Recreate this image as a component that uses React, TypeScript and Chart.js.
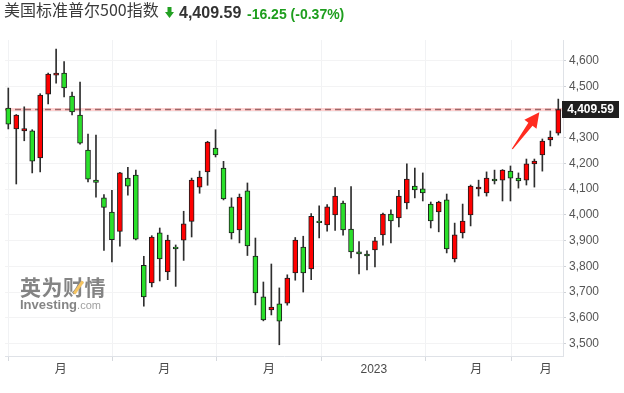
import { useEffect, useRef } from "react";
import { Chart, registerables } from "chart.js";

Chart.register(...registerables);

// ---------- data ----------
const titleText = "美国标准普尔500指数";
const lastPrice = 4409.59;
const changeText = "-16.25";
const changePctText = "(-0.37%)";
const firstWeek = "2022-02-14"; // Monday of the first weekly candle

const opens = [
  4415, 4334, 4326, 4327, 4221, 4469, 4543, 4551, 4462, 4388,
  4252, 4135, 4066, 4011, 3936, 4143, 4155, 3804, 3735, 3930,
  3778, 3875, 3902, 3975, 4108, 4167, 4260, 4182, 4031, 3941,
  4093, 3840, 3681, 3631, 3654, 3657, 3774, 3875, 3790, 3976,
  3961, 4000, 4046, 3945, 3856, 3848, 3864, 3922, 4003, 3988,
  4046, 4112, 4101, 4042, 4011, 4058, 3829, 3930, 4000, 4101,
  4085, 4139, 4135, 4170, 4143, 4135, 4198, 4233, 4291, 4318,
];
const highs = [
  4493, 4390, 4420, 4331, 4471, 4551, 4644, 4596, 4477, 4516,
  4314, 4310, 4079, 4095, 4165, 4185, 4174, 3839, 3919, 3949,
  3921, 3883, 4014, 4143, 4170, 4286, 4331, 4208, 4066, 4081,
  4124, 3910, 3739, 3809, 3716, 3767, 3912, 3917, 4005, 4035,
  4040, 4106, 4054, 4110, 3896, 3860, 3913, 4007, 4020, 4095,
  4198, 4182, 4163, 4050, 4053, 4081, 3968, 4042, 4116, 4135,
  4167, 4174, 4176, 4190, 4163, 4217, 4217, 4295, 4326, 4450,
];
const lows = [
  4334, 4120, 4288, 4163, 4167, 4431, 4512, 4458, 4388, 4275,
  4128, 4069, 3862, 3817, 3878, 4077, 3903, 3645, 3720, 3743,
  3748, 3722, 3823, 3914, 4084, 4115, 4225, 4058, 3906, 3891,
  3842, 3650, 3588, 3611, 3495, 3649, 3746, 3700, 3748, 3910,
  3937, 3940, 3921, 3833, 3770, 3786, 3798, 3882, 3891, 3953,
  4023, 4066, 4054, 3949, 3934, 3852, 3817, 3910, 3957, 4073,
  4073, 4120, 4054, 4054, 4104, 4116, 4108, 4170, 4268, 4310,
];
const closes = [
  4353, 4388, 4335, 4209, 4466, 4547, 4551, 4493, 4400, 4279,
  4139, 4126, 4029, 3904, 4163, 4112, 3906, 3681, 3914, 3829,
  3902, 3868, 3965, 4135, 4147, 4283, 4233, 4062, 3930, 4069,
  3879, 3697, 3592, 3642, 3587, 3754, 3902, 3774, 3994, 3970,
  4031, 4073, 3941, 3856, 3848, 3840, 3899, 4003, 3976, 4073,
  4139, 4097, 4085, 3976, 4050, 3868, 3922, 3976, 4112, 4108,
  4143, 4132, 4174, 4143, 4132, 4198, 4209, 4287, 4302, 4409.59,
];

const yTicks = [3500, 3600, 3700, 3800, 3900, 4000, 4100, 4200, 4300, 4400, 4500, 4600];
const xTickDates = ["2022-04-01", "2022-07-01", "2022-10-01", "2023-01-01", "2023-04-01", "2023-06-01"];
const xTickLabels = ["月", "月", "月", "2023", "月", "月"];

// annotation arrow (data coordinates: week index, price)
const arrowFrom = { x: 63.23, y: 4256 };
const arrowTo = { x: 66.62, y: 4399 };

// ---------- styles ----------
const UP = "#ff0000";
const DOWN = "#2ae02a";
const WEEK_MS = 7 * 86400000;
const weekPos = (d: string) => (Date.parse(d) - Date.parse(firstWeek)) / WEEK_MS;
const fmt = (v: number) => v.toLocaleString("en-US", { maximumFractionDigits: 2 });

const overlayPlugin = {
  id: "overlay",
  beforeDatasetsDraw(chart: any) {
    const { ctx, chartArea, scales } = chart;
    const y = Math.round(scales.y.getPixelForValue(lastPrice)) + 0.5;
    ctx.save();
    ctx.strokeStyle = "rgba(255,170,170,0.55)";
    ctx.lineWidth = 3;
    ctx.beginPath();
    ctx.moveTo(chartArea.left, y);
    ctx.lineTo(chartArea.right, y);
    ctx.stroke();
    ctx.strokeStyle = "#9a6868";
    ctx.lineWidth = 1.5;
    ctx.setLineDash([6, 4]);
    ctx.beginPath();
    ctx.moveTo(chartArea.left, y);
    ctx.lineTo(chartArea.right, y);
    ctx.stroke();
    ctx.restore();
  },
  afterDraw(chart: any) {
    const { ctx, chartArea, scales } = chart;
    // arrow
    const x0 = scales.x.getPixelForValue(arrowFrom.x);
    const y0 = scales.y.getPixelForValue(arrowFrom.y);
    const x1 = scales.x.getPixelForValue(arrowTo.x);
    const y1 = scales.y.getPixelForValue(arrowTo.y);
    const dx = x1 - x0, dy = y1 - y0;
    const len = Math.hypot(dx, dy);
    const ux = dx / len, uy = dy / len;
    const nx = -uy, ny = ux;
    const headLen = 15, headW = 7.5, shaftW = 2.6, tailW = 0.6;
    const bx = x1 - ux * headLen, by = y1 - uy * headLen;
    ctx.save();
    ctx.fillStyle = "#ff2b1f";
    ctx.beginPath();
    ctx.moveTo(x0 + nx * tailW, y0 + ny * tailW);
    ctx.lineTo(bx + nx * shaftW, by + ny * shaftW);
    ctx.lineTo(bx + nx * headW, by + ny * headW);
    ctx.lineTo(x1, y1);
    ctx.lineTo(bx - nx * headW, by - ny * headW);
    ctx.lineTo(bx - nx * shaftW, by - ny * shaftW);
    ctx.lineTo(x0 - nx * tailW, y0 - ny * tailW);
    ctx.closePath();
    ctx.fill();
    // last price box
    const py = scales.y.getPixelForValue(lastPrice);
    const bxL = chartArea.right - 1;
    const bw = 57, bh = 17;
    ctx.fillStyle = "#1f1f1f";
    ctx.fillRect(bxL, Math.round(py - bh / 2), bw, bh);
    ctx.fillStyle = "#ffffff";
    ctx.font = "bold 12px Arial, 'Liberation Sans', sans-serif";
    ctx.textAlign = "center";
    ctx.textBaseline = "middle";
    ctx.fillText(fmt(lastPrice), bxL + bw / 2, Math.round(py - bh / 2) + bh / 2 + 0.5);
    ctx.restore();
  },
};

export default function App() {
  const ref = useRef<HTMLCanvasElement | null>(null);

  useEffect(() => {
    if (!ref.current) return;
    const bodyData = opens.map((o, i) => ({ x: i, y: [o, closes[i]] }));
    const wickData = highs.map((h, i) => ({ x: i, y: [lows[i], h] }));
    const colors = opens.map((o, i) => (closes[i] >= o ? UP : DOWN));
    const xTickPos = xTickDates.map(weekPos);

    const chart = new Chart(ref.current, {
      type: "bar",
      data: {
        datasets: [
          {
            data: bodyData as any,
            backgroundColor: colors,
            borderColor: "#1c1c1c",
            borderWidth: 1,
            borderSkipped: false,
            barThickness: 5,
            grouped: false,
            order: 0,
          } as any,
          {
            data: wickData as any,
            backgroundColor: "#2e2e2e",
            borderWidth: 0,
            barThickness: 1,
            grouped: false,
            order: 1,
          } as any,
        ],
      },
      options: {
        responsive: false,
        animation: false,
        events: [],
        layout: { padding: { left: 5, top: 40, right: 0, bottom: 0 } },
        plugins: { legend: { display: false }, tooltip: { enabled: false } },
        scales: {
          x: {
            type: "linear",
            min: -0.414,
            max: 69.59,
            offset: false,
            afterBuildTicks: (s: any) => {
              s.ticks = xTickPos.map((v) => ({ value: v }));
            },
            afterFit: (s: any) => {
              s.height = 37;
            },
            ticks: {
              autoSkip: false,
              maxRotation: 0,
              padding: 1,
              color: "#4a4a4a",
              font: { size: 12, family: "Arial, 'Liberation Sans', 'Noto Sans CJK SC', sans-serif" },
              callback: (_v: any, i: number) => xTickLabels[i],
            },
            grid: { color: "#f1f2f4", tickLength: 5, tickColor: "#d6d9de" },
            border: { color: "#dfe2e7" },
          },
          y: {
            type: "linear",
            position: "right",
            min: 3451.4,
            max: 4679.7,
            afterBuildTicks: (s: any) => {
              s.ticks = yTicks.map((v) => ({ value: v }));
            },
            afterFit: (s: any) => {
              s.width = 61;
            },
            ticks: {
              padding: 3,
              color: "#555555",
              font: { size: 12, family: "Arial, 'Liberation Sans', sans-serif" },
              callback: (v: any) => fmt(Number(v)),
            },
            grid: { color: "#f3f3f4", tickLength: 3, tickColor: "#cfd2d7" },
            border: { color: "#dfe2e7" },
          },
        },
      },
      plugins: [overlayPlugin],
    });
    return () => chart.destroy();
  }, []);

  return (
    <div style={{ position: "absolute", left: 0, top: 0, width: 624, height: 393, background: "#fff", overflow: "hidden" }}>
      <canvas ref={ref} width={624} height={393} style={{ display: "block", position: "absolute", left: 0, top: 0 }} />
      <div
        style={{
          position: "absolute",
          left: 4,
          top: -2,
          fontFamily: "'Noto Sans CJK SC', sans-serif",
          fontSize: 16,
          lineHeight: "23px",
          color: "#3a3a3a",
          whiteSpace: "nowrap",
        }}
      >
        {titleText}
      </div>
      <svg style={{ position: "absolute", left: 165, top: 7 }} width={9} height={11} viewBox="0 0 9 11">
        <polygon points="2.5,0 6.5,0 6.5,5 9,5 4.5,11 0,5 2.5,5" fill="#22a022" />
      </svg>
      <div
        style={{
          position: "absolute",
          left: 179,
          top: 4,
          fontFamily: "Arial, 'Liberation Sans', sans-serif",
          fontWeight: "bold",
          fontSize: 16,
          lineHeight: "18px",
          color: "#333",
          whiteSpace: "nowrap",
        }}
      >
        {fmt(lastPrice)}
      </div>
      <div
        style={{
          position: "absolute",
          left: 247,
          top: 5.5,
          fontFamily: "Arial, 'Liberation Sans', sans-serif",
          fontWeight: "bold",
          fontSize: 14,
          lineHeight: "16px",
          color: "#1e9e1e",
          whiteSpace: "nowrap",
        }}
      >
        {changeText} {changePctText}
      </div>
      {/* watermark */}
      <div style={{ position: "absolute", left: 20, top: 274, opacity: 0.8, pointerEvents: "none" }}>
        <div
          style={{
            fontFamily: "'Noto Sans CJK SC', sans-serif",
            fontWeight: "bold",
            fontSize: 21,
            lineHeight: "24px",
            color: "#666",
            letterSpacing: 0.5,
            whiteSpace: "nowrap",
            position: "relative",
          }}
        >
          英为财情
          <div
            style={{
              position: "absolute",
              left: 57,
              top: 6,
              width: 3,
              height: 15,
              background: "#f4b63a",
              transform: "rotate(35deg)",
            }}
          />
        </div>
        <div style={{ fontFamily: "Arial, 'Liberation Sans', sans-serif", lineHeight: "12px", whiteSpace: "nowrap" }}>
          <span style={{ fontWeight: "bold", fontSize: 13, color: "#666" }}>Investing</span>
          <span style={{ fontSize: 11, color: "#888" }}>.com</span>
        </div>
      </div>
    </div>
  );
}
